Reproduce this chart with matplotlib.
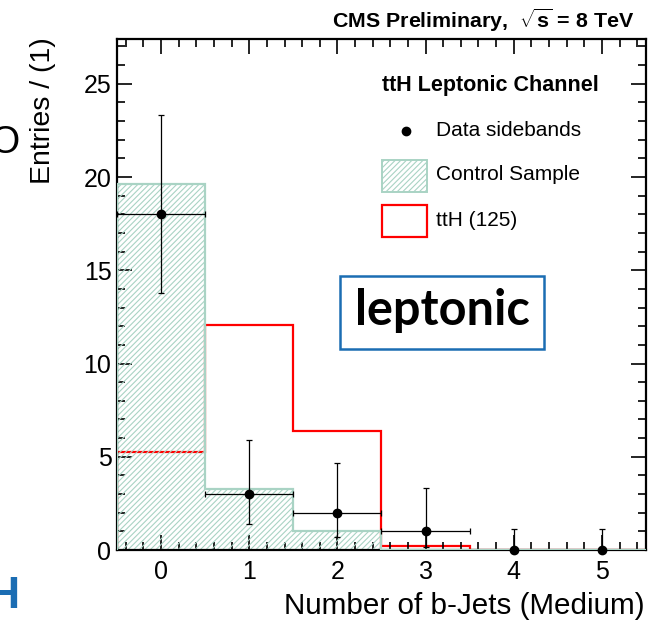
#!/usr/bin/env python3
"""Number of b-jets in the ttH leptonic channel: data sidebands, control sample, ttH signal."""

import matplotlib
matplotlib.use("Agg")
import matplotlib.pyplot as plt
from matplotlib.patches import Rectangle
from matplotlib.ticker import MultipleLocator

plt.rcParams["font.family"] = ["Liberation Sans", "DejaVu Sans"]
plt.rcParams["mathtext.fontset"] = "custom"
plt.rcParams["mathtext.rm"] = "Liberation Sans"
plt.rcParams["mathtext.bf"] = "Liberation Sans:bold"
plt.rcParams["hatch.linewidth"] = 0.8

# data
bin_edges = [-0.5, 0.5, 1.5, 2.5, 3.5, 4.5, 5.5]
n_bjets = [0, 1, 2, 3, 4, 5]
control_sample = [19.6, 3.27, 1.04, 0.0, 0.0, 0.0]
tth_125 = [5.24, 12.07, 6.38, 0.21, 0.0, 0.0]
data_counts = [18, 3, 2, 1, 0, 0]
data_err_lo = [4.22, 1.63, 1.29, 0.83, 0.0, 0.0]
data_err_hi = [5.30, 2.92, 2.64, 2.30, 1.15, 1.15]
data_xerr = [0.5, 0.5, 0.5, 0.5, 0.0, 0.0]

HATCH_COLOR = "#a9d3c4"
BLUE = "#1b6db3"

W, H = 660, 623
fig = plt.figure(figsize=(6.6, 6.23), dpi=100)


def px(x, y):
	# figure pixel (from top-left) -> figure fraction
	return x / W, 1 - y / H


ax = fig.add_axes([117 / W, 1 - 550 / H, (646 - 117) / W, (550 - 39) / H])

# ttH signal underneath the hatched control sample
ax.stairs(tth_125, bin_edges, color="red", linewidth=1.6, zorder=1)

ax.bar(n_bjets, control_sample, width=1.0, fill=False, hatch="//////",
	edgecolor=HATCH_COLOR, linewidth=0, zorder=2)
ax.stairs(control_sample, bin_edges, color=HATCH_COLOR, linewidth=1.6, zorder=3)

ax.errorbar(n_bjets, data_counts, yerr=[data_err_lo, data_err_hi], xerr=data_xerr,
	fmt="o", color="black", markersize=6, elinewidth=0.9, capsize=2.2,
	capthick=0.9, zorder=5, clip_on=False)

ax.set_xlim(-0.5, 5.5)
ax.set_ylim(0, 27.4)
ax.xaxis.set_major_locator(MultipleLocator(1))
ax.xaxis.set_minor_locator(MultipleLocator(0.2))
ax.yaxis.set_major_locator(MultipleLocator(5))
ax.yaxis.set_minor_locator(MultipleLocator(1))
ax.tick_params(which="both", direction="in", top=True, right=True, width=1.2,
	labelsize=18, color="black")
ax.tick_params(which="major", length=11)
ax.tick_params(which="minor", length=5.5)
ax.tick_params(axis="x", pad=7)
ax.tick_params(axis="y", pad=4)
for spine in ax.spines.values():
	spine.set_linewidth(1.6)

fig.text(*px(645, 606), "Number of b-Jets (Medium)", fontsize=21.3, ha="right", va="center")
fig.text(*px(43, 37), "Entries / (1)", fontsize=20.5, rotation=90, ha="center", va="top")
fig.text(*px(634, 20), r"CMS Preliminary,  $\mathbf{\sqrt{s}}$ = 8 TeV",
	fontsize=15.4, fontweight="bold", ha="right", va="center")

# legend, ROOT style
def afrac(x, y):
	return (x - 117) / 529, (550 - y) / 511


ax.text(*afrac(490, 85), "ttH Leptonic Channel", transform=ax.transAxes,
	fontsize=15.5, fontweight="bold", ha="center", va="center")
ax.plot(*afrac(406, 131), "o", color="black", markersize=6, transform=ax.transAxes)
ax.text(*afrac(436, 131), "Data sidebands", transform=ax.transAxes, fontsize=15,
	ha="left", va="center")
x0, y0 = afrac(382, 192)
x1, y1 = afrac(427, 160)
ax.add_patch(Rectangle((x0, y0), x1 - x0, y1 - y0, transform=ax.transAxes, fill=False,
	hatch="//////", edgecolor=HATCH_COLOR, linewidth=1.4))
ax.text(*afrac(436, 175), "Control Sample", transform=ax.transAxes, fontsize=15,
	ha="left", va="center")
x0, y0 = afrac(382, 237)
x1, y1 = afrac(427, 205)
ax.add_patch(Rectangle((x0, y0), x1 - x0, y1 - y0, transform=ax.transAxes, fill=False,
	edgecolor="red", linewidth=1.6))
ax.text(*afrac(436, 220), "ttH (125)", transform=ax.transAxes, fontsize=15,
	ha="left", va="center")

# slide annotation box
bx0, by0 = px(340, 349)
bx1, by1 = px(544, 276)
fig.patches.append(Rectangle((bx0, by0), bx1 - bx0, by1 - by0, transform=fig.transFigure,
	fill=False, edgecolor=BLUE, linewidth=1.8))
fig.text(*px(442, 310), "leptonic", family=["Lato", "DejaVu Sans"], fontweight="bold",
	fontsize=35, ha="center", va="center")

# pieces of neighbouring slide content, cut off at the left edge as in the source
fig.text(*px(19, 143), "O", fontsize=27, ha="right", va="center")
fig.text(*px(20, 597), "H", fontsize=32, fontweight="bold", color=BLUE,
	ha="right", va="center")

fig.savefig("out.png", dpi=100)
